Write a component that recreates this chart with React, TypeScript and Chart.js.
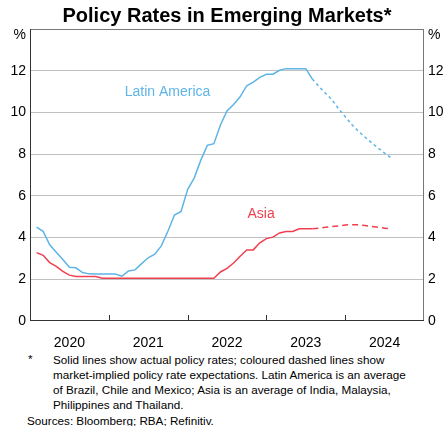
import React, { useEffect, useRef } from "react";
import { Chart, registerables } from "chart.js";

Chart.register(...registerables);

// Monthly observations from Jan 2020 (end-of-month positions)
const START_YEAR = 2020;

const latamActual = [
  4.5, 4.3, 3.65, 3.3, 2.95, 2.58, 2.55, 2.32, 2.26, 2.25, 2.25, 2.25,
  2.25, 2.15, 2.4, 2.45, 2.75, 3.03, 3.2, 3.6, 4.3, 5.08, 5.25, 6.3,
  6.85, 7.7, 8.42, 8.5, 9.4, 10.07, 10.38, 10.75, 11.28, 11.45, 11.68, 11.83,
  11.83, 12.02, 12.1, 12.1, 12.1, 12.1, 11.6,
];
// Expectations from Jul 2023 to Jul 2024
const latamExpected = [11.6, 11.24, 10.92, 10.6, 10.17, 9.8, 9.42, 9.1, 8.82, 8.55, 8.3, 8.05, 7.82];

const asiaActual = [
  3.28, 3.15, 2.8, 2.62, 2.38, 2.2, 2.13, 2.13, 2.13, 2.13, 2.05, 2.05,
  2.05, 2.05, 2.05, 2.05, 2.05, 2.05, 2.05, 2.05, 2.05, 2.05, 2.05, 2.05,
  2.05, 2.05, 2.05, 2.05, 2.35, 2.52, 2.78, 3.1, 3.41, 3.41, 3.75, 3.95,
  4.02, 4.22, 4.29, 4.29, 4.42, 4.42, 4.42,
];
const asiaExpected = [4.42, 4.45, 4.49, 4.53, 4.56, 4.6, 4.62, 4.61, 4.58, 4.53, 4.49, 4.45, 4.41];

const EXPECT_START_INDEX = 42; // Jul 2023

const yearLabels = [2020, 2021, 2022, 2023, 2024];
const yearBoundaries = [2021, 2022, 2023, 2024];
const yTicks = [0, 2, 4, 6, 8, 10, 12, 14];

const LATAM_COLOR = "#5fb4e6";
const ASIA_COLOR = "#f0404f";
const FONT = "'Liberation Sans', Arial, sans-serif";
const NOTE_SIZE = 11.7;

const monthPos = (i: number) => START_YEAR + (i + 1) / 12;
const toPoints = (vals: number[], offset: number) =>
  vals.map((v, i) => ({ x: monthPos(i + offset), y: v }));

const overlay = {
  id: "overlay",
  afterDraw(chart: any) {
    const { ctx, chartArea: a, scales } = chart;
    const xs = scales.x;
    const ys = scales.y;
    ctx.save();
    // frame
    ctx.lineWidth = 1;
    ctx.strokeStyle = "#777";
    ctx.beginPath();
    ctx.moveTo(a.left, a.top + 0.5);
    ctx.lineTo(a.right, a.top + 0.5);
    ctx.moveTo(a.right - 0.5, a.top);
    ctx.lineTo(a.right - 0.5, a.bottom);
    ctx.stroke();
    ctx.strokeStyle = "#333";
    ctx.beginPath();
    ctx.moveTo(a.left + 0.5, a.top);
    ctx.lineTo(a.left + 0.5, a.bottom);
    ctx.moveTo(a.left, a.bottom - 0.5);
    ctx.lineTo(a.right, a.bottom - 0.5);
    ctx.stroke();
    // inward year ticks
    for (const yr of yearBoundaries) {
      const px = Math.round(xs.getPixelForValue(yr)) + 0.5;
      ctx.beginPath();
      ctx.moveTo(px, a.bottom);
      ctx.lineTo(px, a.bottom - 6);
      ctx.stroke();
    }
    // % units
    ctx.fillStyle = "#000";
    ctx.font = `14px ${FONT}`;
    ctx.textBaseline = "middle";
    ctx.textAlign = "right";
    ctx.fillText("%", a.left - 4, a.top + 6);
    ctx.textAlign = "left";
    ctx.fillText("%", a.right + 4, a.top + 6);
    // series labels
    ctx.textAlign = "center";
    ctx.fillStyle = LATAM_COLOR;
    ctx.fillText("Latin America", xs.getPixelForValue(2021.745), ys.getPixelForValue(10.95));
    ctx.fillStyle = ASIA_COLOR;
    ctx.fillText("Asia", xs.getPixelForValue(2022.933), ys.getPixelForValue(5.1));
    ctx.restore();
  },
};

export default function App() {
  const ref = useRef<HTMLCanvasElement>(null);
  useEffect(() => {
    document.body.style.margin = "0";
    const yAxis = (pos: "left" | "right", width: number) => ({
      type: "linear" as const,
      position: pos,
      min: 0,
      max: 14,
      afterBuildTicks: (s: any) => {
        s.ticks = yTicks.map((v) => ({ value: v }));
      },
      afterFit: (s: any) => {
        s.width = width;
      },
      border: { display: false },
      grid: {
        display: pos === "left",
        drawTicks: false,
        lineWidth: 1,
        color: (c: any) =>
          c.tick && (c.tick.value === 0 || c.tick.value === 14) ? "rgba(0,0,0,0)" : "#c0c0c0",
      },
      ticks: {
        padding: 4,
        color: "#000",
        font: { family: FONT, size: 14 },
        callback: (v: any) => (v === 14 ? "" : String(v)),
      },
    });
    const chart = new Chart(ref.current!, {
      type: "line",
      data: {
        datasets: [
          {
            data: toPoints(latamActual, 0),
            borderColor: LATAM_COLOR,
            borderWidth: 1.5,
            pointRadius: 0,
            tension: 0,
          },
          {
            data: toPoints(latamExpected, EXPECT_START_INDEX),
            borderColor: LATAM_COLOR,
            borderWidth: 1.5,
            borderDash: [3, 3],
            pointRadius: 0,
            tension: 0,
          },
          {
            data: toPoints(asiaActual, 0),
            borderColor: ASIA_COLOR,
            borderWidth: 1.5,
            pointRadius: 0,
            tension: 0,
          },
          {
            data: toPoints(asiaExpected, EXPECT_START_INDEX),
            borderColor: ASIA_COLOR,
            borderWidth: 1.5,
            borderDash: [6, 4],
            pointRadius: 0,
            tension: 0,
          },
        ],
      },
      options: {
        responsive: false,
        animation: false,
        layout: { padding: { top: 29, left: 0, right: 0, bottom: 0 } },
        plugins: { legend: { display: false }, tooltip: { enabled: false }, title: { display: false } },
        scales: {
          x: {
            type: "linear",
            min: 2020,
            max: 2025,
            afterBuildTicks: (s: any) => {
              s.ticks = yearLabels.map((y) => ({ value: y + 0.5 }));
            },
            afterFit: (s: any) => {
              s.height = 29;
            },
            border: { display: false },
            grid: { display: false },
            ticks: {
              padding: 6,
              color: "#000",
              maxRotation: 0,
              autoSkip: false,
              font: { family: FONT, size: 14 },
              callback: (v: any) => String(Math.floor(v)),
            },
          },
          y: yAxis("left", 30),
          y2: yAxis("right", 22),
        },
      },
      plugins: [overlay],
    } as any);
    return () => chart.destroy();
  }, []);

  return (
    <div
      style={{
        position: "relative",
        width: 446,
        height: 426,
        overflow: "hidden",
        background: "#fff",
        fontFamily: FONT,
        color: "#000",
      }}
    >
      <canvas ref={ref} width={446} height={350} style={{ position: "absolute", left: 0, top: 0, display: "block" }} />
      <div
        style={{
          position: "absolute",
          top: 3,
          left: 4,
          width: 446,
          textAlign: "center",
          fontWeight: "bold",
          fontSize: 20,
          lineHeight: "24px",
          whiteSpace: "nowrap",
        }}
      >
        Policy Rates in Emerging Markets*
      </div>
      <div style={{ position: "absolute", top: 351, left: 28, fontSize: NOTE_SIZE, lineHeight: "15px" }}>*</div>
      <div
        style={{
          position: "absolute",
          top: 351.5,
          left: 53,
          fontSize: NOTE_SIZE,
          lineHeight: "15px",
          whiteSpace: "nowrap",
        }}
      >
        <div>Solid lines show actual policy rates; coloured dashed lines show</div>
        <div>market-implied policy rate expectations. Latin America is an average</div>
        <div>of Brazil, Chile and Mexico; Asia is an average of India, Malaysia,</div>
        <div>Philippines and Thailand.</div>
      </div>
      <div
        style={{
          position: "absolute",
          top: 413,
          left: 27,
          fontSize: NOTE_SIZE,
          lineHeight: "15px",
          whiteSpace: "nowrap",
        }}
      >
        Sources: Bloomberg; RBA; Refinitiv.
      </div>
    </div>
  );
}
